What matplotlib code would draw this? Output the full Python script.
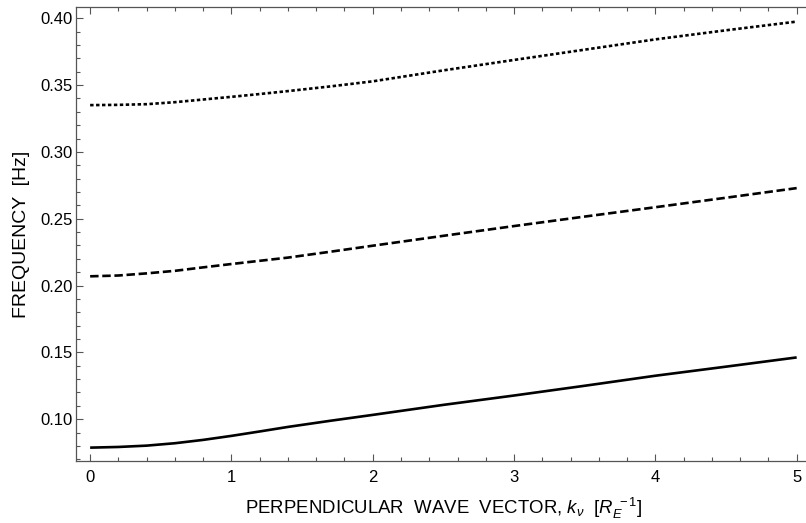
import numpy as np
import matplotlib.pyplot as plt
from matplotlib.ticker import MultipleLocator

# Datos
k_y = [0.0, 0.2, 0.4, 0.6, 0.8, 1.0, 1.2, 1.4, 1.7, 2.0, 2.5, 3.0, 3.5, 4.0, 4.5, 5.0]
f_solid = [0.0787, 0.0792, 0.0802, 0.0820, 0.0845, 0.0875, 0.0908, 0.0942, 0.0988, 0.1032,
           0.1107, 0.1177, 0.1250, 0.1325, 0.1393, 0.1462]
f_dashed = [0.2069, 0.2075, 0.2091, 0.2110, 0.2136, 0.2161, 0.2185, 0.2209, 0.2253, 0.2298,
            0.2372, 0.2445, 0.2516, 0.2586, 0.2657, 0.2729]
f_dotted = [0.3350, 0.3352, 0.3357, 0.3372, 0.3392, 0.3412, 0.3433, 0.3455, 0.3490, 0.3528,
            0.3610, 0.3688, 0.3765, 0.3842, 0.3910, 0.3975]

plt.rcParams['font.family'] = ['Liberation Sans', 'DejaVu Sans']
plt.rcParams['mathtext.fontset'] = 'custom'
plt.rcParams['mathtext.it'] = 'Liberation Sans:italic'
plt.rcParams['mathtext.rm'] = 'Liberation Sans'

fig = plt.figure(figsize=(8.06, 5.23), dpi=100)
ax = fig.add_axes([76 / 806, 62 / 523, 734.8 / 806, 453.7 / 523])

lw = 1.9
ax.plot(k_y, f_solid, color='black', lw=lw, solid_capstyle='butt')
ax.plot(k_y, f_dashed, color='black', lw=lw, dashes=(3.2, 1.4))
ax.plot(k_y, f_dotted, color='black', lw=lw, dashes=(1.3, 0.95))

ax.set_xlim(-0.1, 5.1)
ax.set_ylim(0.0687, 0.4082)

ax.xaxis.set_major_locator(MultipleLocator(1))
ax.xaxis.set_minor_locator(MultipleLocator(0.2))
ax.yaxis.set_major_locator(MultipleLocator(0.05))
ax.yaxis.set_minor_locator(MultipleLocator(0.01))
ax.yaxis.set_major_formatter(plt.FuncFormatter(lambda v, p: f'{v:.2f}'))

for s in ax.spines.values():
    s.set_color('#555555')
    s.set_linewidth(0.9)

ax.tick_params(which='both', direction='in', top=True, right=False,
               color='#555555', width=0.8, labelsize=12)
ax.tick_params(axis='x', pad=6.5)
ax.tick_params(axis='y', pad=2.5)
ax.tick_params(which='major', length=5)
ax.tick_params(which='minor', length=3)

ax.set_ylabel('FREQUENCY  [Hz]', fontsize=14, labelpad=7)
ax.set_xlabel(r'PERPENDICULAR  WAVE  VECTOR, $k_\nu$  [$R_E^{\ -1}$]', fontsize=13.4, labelpad=7.5)

fig.savefig('out.png', dpi=100)
